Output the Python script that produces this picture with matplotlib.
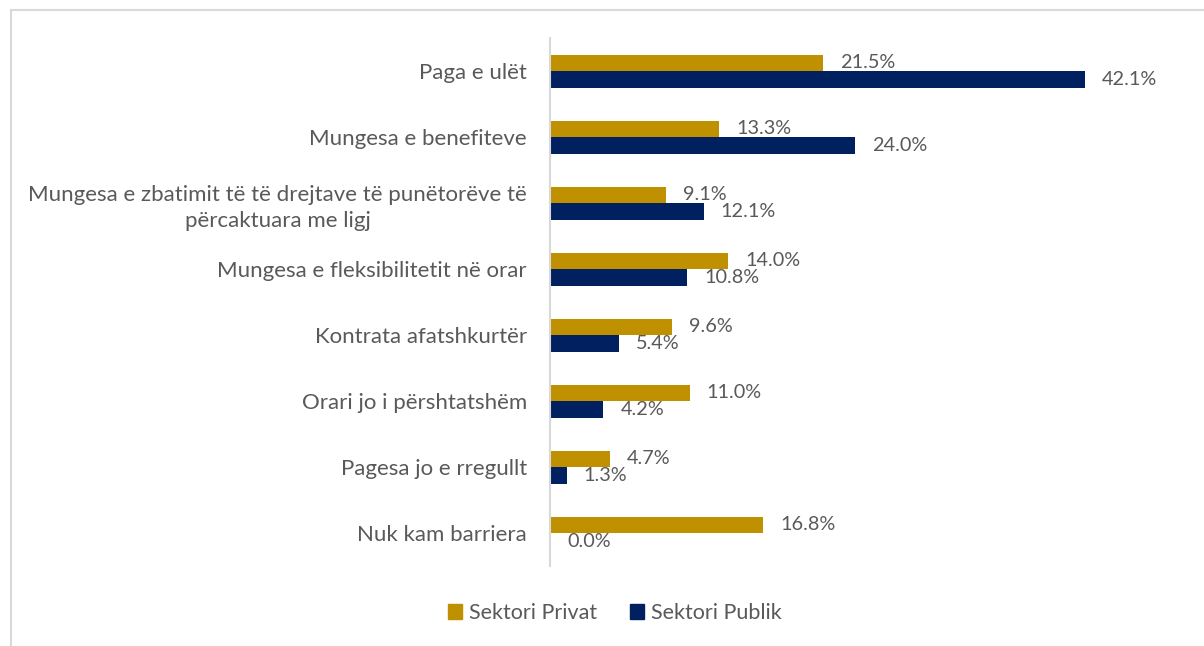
import matplotlib
matplotlib.use("Agg")
import matplotlib.pyplot as plt
from matplotlib.patches import Rectangle, Patch
import numpy as np

categories = [
    "Paga e ulët",
    "Mungesa e benefiteve",
    "Mungesa e zbatimit të të drejtave të punëtorëve të\npërcaktuara me ligj",
    "Mungesa e fleksibilitetit në orar",
    "Kontrata afatshkurtër",
    "Orari jo i përshtatshëm",
    "Pagesa jo e rregullt",
    "Nuk kam barriera",
]
privat = [21.5, 13.3, 9.1, 14.0, 9.6, 11.0, 4.7, 16.8]
publik = [42.1, 24.0, 12.1, 10.8, 5.4, 4.2, 1.3, 0.0]
series_names = ["Sektori Privat", "Sektori Publik"]

GOLD = "#BF9000"
NAVY = "#002060"
TEXT = "#595959"

plt.rcParams["font.family"] = ["Lato", "DejaVu Sans"]

W, H = 1204, 646
fig = plt.figure(figsize=(W / 100, H / 100), dpi=100)
fig.patch.set_facecolor("white")

# outer frame (partially cropped at right/bottom)
fig.patches.append(Rectangle((11 / W, -0.1), 1.2, 1 - 10 / H + 0.1,
                             transform=fig.transFigure, fill=False,
                             edgecolor="#D9D9D9", linewidth=1.5))

left = 550 / W
xmax = 50.0
ppu = (1085 - 550) / 42.1
right = (550 + xmax * ppu) / W
top = 1 - 38 / H
bottom = 1 - 566 / H
ax = fig.add_axes([left, bottom, right - left, top - bottom])

n = len(categories)
y = np.arange(n)
bh = 0.25
ax.barh(y - bh / 2, privat, height=bh, color=GOLD, label=series_names[0])
ax.barh(y + bh / 2, publik, height=bh, color=NAVY, label=series_names[1])

ax.set_ylim(n - 0.5, -0.5)
ax.set_xlim(0, xmax)

off = 17 / ppu
for i in range(n):
    ax.text(privat[i] + off, y[i] - bh / 2, f"{privat[i]:.1f}%", va="center",
            ha="left", fontsize=14.3, color=TEXT)
    ax.text(publik[i] + off, y[i] + bh / 2, f"{publik[i]:.1f}%", va="center",
            ha="left", fontsize=14.3, color=TEXT)

ax.set_yticks(y)
ax.set_yticklabels(categories, fontsize=16, color=TEXT, multialignment="center",
                   linespacing=1.4)
ax.tick_params(axis="y", length=0, pad=16.5)
ax.set_xticks([])
for s in ["top", "right", "bottom"]:
    ax.spines[s].set_visible(False)
ax.spines["left"].set_color("#D9D9D9")
ax.spines["left"].set_linewidth(1.5)

handles = [Patch(color=GOLD), Patch(color=NAVY)]
fig.legend(handles, series_names, loc="center", bbox_to_anchor=(615 / W, 1 - 613 / H),
           ncol=2, frameon=False, fontsize=15.5, handlelength=0.65, handleheight=0.65,
           handletextpad=0.35, columnspacing=1.5, labelcolor=TEXT)

fig.savefig("out.png", dpi=100, facecolor="white")
